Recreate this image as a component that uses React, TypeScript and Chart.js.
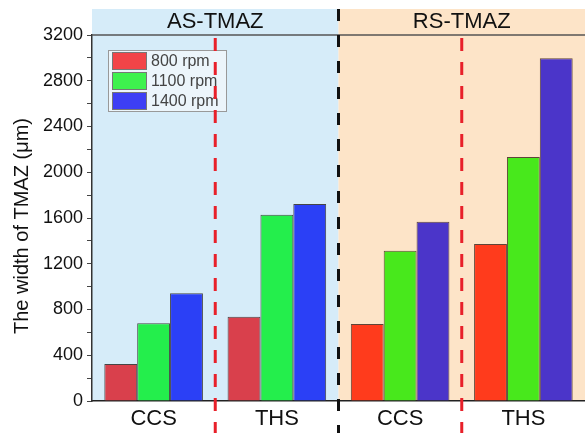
import React, { useEffect, useRef } from "react";
import { Chart, registerables } from "chart.js";

Chart.register(...registerables);

const categories = ["CCS", "THS", "CCS", "THS"];
const seriesLabels = ["800 rpm", "1100 rpm", "1400 rpm"];
const rpm800 = [323, 737, 673, 1373];
const rpm1100 = [679, 1628, 1314, 2133];
const rpm1400 = [941, 1722, 1568, 2996];
const yTicks = [0, 400, 800, 1200, 1600, 2000, 2400, 2800, 3200];
const regionLabels = ["AS-TMAZ", "RS-TMAZ"];
const yTitle = "The width of TMAZ (μm)";

const FONT = "'Liberation Sans', Arial, sans-serif";

const barColors = [
  ["#d9404c", "#d9404c", "#ff3b1c", "#ff3b1c"],
  ["#24ee4c", "#24ee4c", "#48e81c", "#48e81c"],
  ["#2b40f6", "#2b40f6", "#4b35c9", "#4b35c9"],
];
const borderColors = ["#454545", "#454545", "#5e4538", "#5e4538"];
const legendColors = ["#f24448", "#3ef24e", "#3d3ff5"];

const decorPlugin = {
  id: "decor",
  beforeDraw(chart: any) {
    const { ctx, chartArea: ca } = chart;
    const x = chart.scales.x;
    const xDiv = x.getPixelForValue(1.5);
    const top = ca.top - 26;
    ctx.save();
    ctx.fillStyle = "#d6ecf9";
    ctx.fillRect(ca.left, top, xDiv - ca.left, ca.bottom - top);
    ctx.fillStyle = "#fde4c8";
    ctx.fillRect(xDiv, top, ca.right - xDiv, ca.bottom - top);
    ctx.restore();
  },
  afterDraw(chart: any) {
    const { ctx, chartArea: ca } = chart;
    const x = chart.scales.x;
    const xDiv = x.getPixelForValue(1.5);
    const top = ca.top - 26;
    const H = chart.height;
    ctx.save();
    // 3200 line
    ctx.strokeStyle = "#555";
    ctx.lineWidth = 1.3;
    ctx.beginPath();
    ctx.moveTo(ca.left, ca.top);
    ctx.lineTo(ca.right, ca.top);
    ctx.stroke();
    // header labels
    ctx.fillStyle = "#111";
    ctx.font = `22px ${FONT}`;
    ctx.textAlign = "center";
    ctx.textBaseline = "middle";
    ctx.fillText(regionLabels[0], x.getPixelForValue(0.5), ca.top - 13);
    ctx.fillText(regionLabels[1], x.getPixelForValue(2.5), ca.top - 13);

    // y title
    ctx.save();
    ctx.translate(22, (ca.top + ca.bottom) / 2 + 8);
    ctx.rotate(-Math.PI / 2);
    ctx.font = `20px ${FONT}`;
    ctx.fillText(yTitle, 0, 0);
    ctx.restore();

    // legend
    const lx = 108, ly = 50, lw = 118, lh = 61;
    ctx.fillStyle = "rgba(240,247,252,0.85)";
    ctx.fillRect(lx, ly, lw, lh);
    ctx.strokeStyle = "#999";
    ctx.lineWidth = 1;
    ctx.strokeRect(lx + 0.5, ly + 0.5, lw, lh);
    ctx.font = `16px ${FONT}`;
    ctx.textAlign = "left";
    chart.data.datasets.forEach((ds: any, i: number) => {
      const ry = ly + 2 + i * 20;
      ctx.fillStyle = legendColors[i];
      ctx.fillRect(lx + 4, ry, 35, 18);
      ctx.strokeStyle = "#777";
      ctx.strokeRect(lx + 4.5, ry + 0.5, 34, 17);
      ctx.fillStyle = "#444";
      ctx.fillText(ds.label, lx + 43, ry + 10);
    });

    // dashed dividers
    ctx.lineWidth = 3;
    ctx.strokeStyle = "#e8202a";
    ctx.setLineDash([13, 11]);
    [0.5, 2.5].forEach((v) => {
      const px = x.getPixelForValue(v);
      ctx.beginPath();
      ctx.moveTo(px, ca.top + 3);
      ctx.lineTo(px, H);
      ctx.stroke();
    });
    ctx.strokeStyle = "#111";
    ctx.setLineDash([12, 14]);
    ctx.beginPath();
    ctx.moveTo(xDiv, top);
    ctx.lineTo(xDiv, H);
    ctx.stroke();
    ctx.restore();
  },
};

export default function App() {
  const ref = useRef<HTMLCanvasElement | null>(null);
  useEffect(() => {
    document.body.style.margin = "0";
    if (!ref.current) return;
    const data = [rpm800, rpm1100, rpm1400];
    const chart = new Chart(ref.current, {
      type: "bar",
      data: {
        labels: categories,
        datasets: seriesLabels.map((label, i) => ({
          label,
          data: data[i],
          backgroundColor: barColors[i],
          borderColor: borderColors,
          borderWidth: 1,
          categoryPercentage: 0.8,
          barPercentage: 1.0,
        })),
      },
      options: {
        animation: false,
        responsive: false,
        maintainAspectRatio: false,
        layout: { padding: { top: 35, right: 0, left: 0, bottom: 0 } },
        plugins: { legend: { display: false }, tooltip: { enabled: false } },
        scales: {
          x: {
            grid: { display: false, drawTicks: false },
            border: { display: true, color: "#222", width: 1.5 },
            ticks: {
              color: "#111",
              font: { family: FONT, size: 22 },
              padding: 5,
            },
            afterFit: (s: any) => {
              s.height = 32;
            },
          },
          y: {
            min: 0,
            max: 3200,
            grid: {
              drawOnChartArea: false,
              drawTicks: true,
              tickLength: 5,
              color: "#444",
            },
            border: { display: true, color: "#333", width: 1.5 },
            afterBuildTicks: (s: any) => {
              const t: any[] = [];
              for (let i = 0; i < yTicks.length; i++) {
                t.push({ value: yTicks[i] });
                if (i < yTicks.length - 1) t.push({ value: (yTicks[i] + yTicks[i + 1]) / 2 });
              }
              s.ticks = t;
            },
            ticks: {
              autoSkip: false,
              color: "#111",
              font: { family: FONT, size: 18 },
              padding: 4,
              callback: (v: any) => (yTicks.includes(Number(v)) ? String(v) : ""),
            },
            afterFit: (s: any) => {
              s.width = 92;
            },
          },
        },
      },
      plugins: [decorPlugin],
    });
    return () => chart.destroy();
  }, []);
  return (
    <div style={{ width: 585, height: 433 }}>
      <canvas ref={ref} width={585} height={433} style={{ display: "block" }} />
    </div>
  );
}
